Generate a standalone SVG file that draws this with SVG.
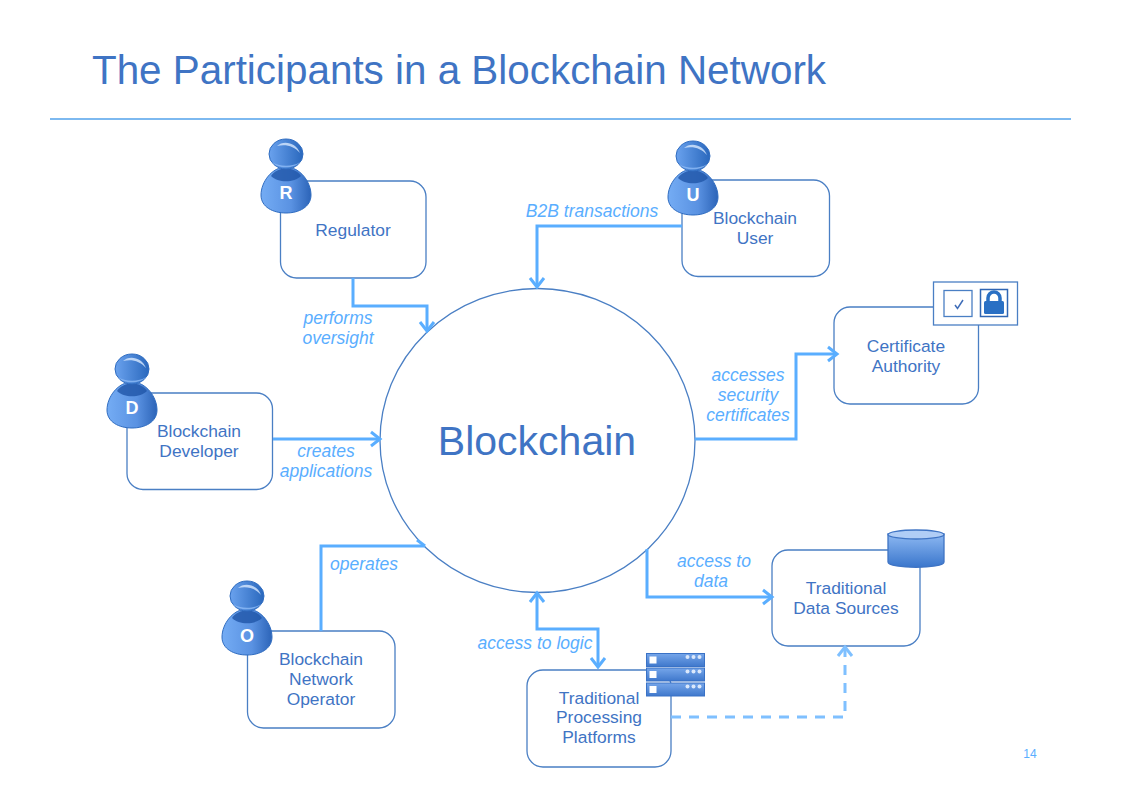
<svg xmlns="http://www.w3.org/2000/svg" width="1122" height="793" viewBox="0 0 1122 793">
<style>
text{font-family:"Liberation Sans",Arial,sans-serif;text-anchor:middle}
.n{fill:#fff;stroke:#4a7fc4;stroke-width:1.300}
.t{font-size:17.400px;fill:#3f74c4}
.l{font-size:17.500px;fill:#5aaeff;font-style:italic}
.c{fill:none;stroke:#5aaeff;stroke-width:3}
.b{font-size:18px;font-weight:bold;fill:#fff}
</style>
<defs>
<linearGradient id="head" x1="0" x2="1" y1="0" y2="0"><stop offset="0" stop-color="#6aa2ee"/><stop offset="1" stop-color="#2a68bd"/></linearGradient>
<linearGradient id="body" x1="0" x2="1" y1="0" y2="0"><stop offset="0" stop-color="#74acf4"/><stop offset="0.6" stop-color="#5a92e2"/><stop offset="1" stop-color="#2c64b8"/></linearGradient>
<linearGradient id="cyl" x1="0" x2="0" y1="0" y2="1"><stop offset="0" stop-color="#8db8f2"/><stop offset="1" stop-color="#3a76cc"/></linearGradient>
<linearGradient id="srv" x1="0" x2="0" y1="0" y2="1"><stop offset="0" stop-color="#76a6ea"/><stop offset="1" stop-color="#3f78cc"/></linearGradient>
<g id="person">
<path d="M0-23C14-23 25-8 25 5C25 17 13 23 0 23C-13 23-25 17-25 5C-25-8-14-23 0-23Z" fill="url(#body)" stroke="#2f6cc0"/>
<path d="M-15-14C-9-24 9-24 15-14C8-7-8-7-15-14Z" fill="#1f55a8" opacity=".8"/>
<ellipse cx="0" cy="-36" rx="17" ry="15" fill="url(#head)" stroke="#2f6cc0"/>
<path d="M-9-44C-3-50 10-48 14-37C8-44 0-46-9-44Z" fill="#d0e3fc" opacity=".85"/>
<path d="M-14-28C-7-23 7-23 14-28C9-21-9-21-14-28Z" fill="#8fbcf6" opacity=".8"/>
</g>
<g id="server">
<rect width="58" height="13" fill="url(#srv)" stroke="#3a72c6"/>
<rect x="3" y="3" width="7" height="7" fill="#fff"/>
<circle cx="41" cy="3.500" r="2" fill="#dbe8fb"/><circle cx="47" cy="3.500" r="2" fill="#dbe8fb"/><circle cx="53" cy="3.500" r="2" fill="#dbe8fb"/>
</g>
</defs>
<rect width="1122" height="793" fill="#fff"/>
<text x="459" y="84" style="font-size:40.400px;fill:#3f74c4">The Participants in a Blockchain Network</text>
<line x1="50" y1="119" x2="1071" y2="119" stroke="#7db9f0" stroke-width="2"/>
<text x="1030" y="758" style="font-size:12px;fill:#5aaeff">14</text>

<g id="blockchain"><ellipse class="n" cx="537.500" cy="440.500" rx="157.500" ry="152"/><text x="537" y="455" style="font-size:41px;fill:#3f74c4">Blockchain</text></g>

<g id="regulator"><rect class="n" x="280.500" y="181" width="145.500" height="97" rx="16"/><text class="t" x="353" y="236">Regulator</text><use href="#person" x="286" y="190"/><text class="b" x="286" y="199">R</text></g>
<g id="user"><rect class="n" x="682" y="180" width="147.500" height="96.500" rx="16"/><text class="t" x="755" y="224">Blockchain</text><text class="t" x="755" y="244">User</text><use href="#person" x="693" y="192"/><text class="b" x="693" y="201">U</text></g>
<g id="developer"><rect class="n" x="127" y="393" width="145.500" height="96.500" rx="16"/><text class="t" x="199" y="437">Blockchain</text><text class="t" x="199" y="457">Developer</text><use href="#person" x="132" y="405"/><text class="b" x="132" y="414">D</text></g>
<g id="operator"><rect class="n" x="247.500" y="631" width="147.500" height="97" rx="16"/><text class="t" x="321" y="665">Blockchain</text><text class="t" x="321" y="685">Network</text><text class="t" x="321" y="705">Operator</text><use href="#person" x="247" y="632"/><text class="b" x="247" y="642">O</text></g>
<g id="ca"><rect class="n" x="834" y="307" width="144.500" height="97" rx="16"/><text class="t" x="906" y="352">Certificate</text><text class="t" x="906" y="372">Authority</text>
<rect x="933.500" y="282" width="84" height="43" fill="#fff" stroke="#4a7fc4" stroke-width="1.300"/>
<rect x="944" y="290.500" width="28" height="26" fill="#fff" stroke="#4a7fc4" stroke-width="1.300"/>
<path d="M955 305L957.500 308.500L963 300" fill="none" stroke="#3f6db8" stroke-width="1.500"/>
<rect x="980.500" y="289.500" width="27" height="27" fill="#fff" stroke="#2f66b4" stroke-width="1.500"/>
<path d="M988 302V298A6 6 0 0 1 1000 298V302" fill="none" stroke="#2a70c4" stroke-width="3.500"/>
<rect x="984" y="301" width="20" height="13" rx="1.500" fill="#2a70c4"/></g>
<g id="datasources"><rect class="n" x="772" y="550" width="148" height="96" rx="16"/><text class="t" x="846" y="594">Traditional</text><text class="t" x="846" y="614">Data Sources</text>
<path d="M888 534V562C888 569 944 569 944 562V534Z" fill="url(#cyl)" stroke="#3f74c4" stroke-width="1.300"/><ellipse cx="916" cy="534.500" rx="28" ry="4.500" fill="#b0cdf6" stroke="#3f74c4" stroke-width="1.300"/></g>
<g id="platforms"><rect class="n" x="527" y="670" width="144" height="97" rx="16"/><text class="t" x="599" y="704">Traditional</text><text class="t" x="599" y="723">Processing</text><text class="t" x="599" y="743">Platforms</text>
<use href="#server" x="646.500" y="653.500"/><use href="#server" x="646.500" y="668"/><use href="#server" x="646.500" y="683"/></g>

<g id="connectors">
<path class="c" d="M353 278V306H427V330"/><path class="c" d="M420 322L427 331L434 322"/>
<path class="c" d="M682 226H537V286"/><path class="c" d="M530 278L537 287L544 278"/>
<path class="c" d="M273 439H379"/><path class="c" d="M371 432L380 439L371 446"/>
<path class="c" d="M695 439H796V354H836"/><path class="c" d="M828 347L837 354L828 361"/>
<path class="c" d="M321 631V546H425"/><path class="c" d="M417 540L425 546"/>
<path class="c" d="M647 549V597H771"/><path class="c" d="M763 590L772 597L763 604"/>
<path class="c" d="M537 594V629H598V666"/><path class="c" d="M530 602L537 593L544 602"/><path class="c" d="M591 658L598 667L605 658"/>
<path d="M671 717H845V648" fill="none" stroke="#7fc0ff" stroke-width="3" stroke-dasharray="10 8"/><path d="M838 656L845 647L852 656" fill="none" stroke="#7fc0ff" stroke-width="3"/>
</g>

<g id="labels">
<text class="l" x="338" y="324">performs</text><text class="l" x="338" y="344">oversight</text>
<text class="l" x="592" y="217">B2B transactions</text>
<text class="l" x="326" y="457">creates</text><text class="l" x="326" y="477">applications</text>
<text class="l" x="748" y="381">accesses</text><text class="l" x="748" y="401">security</text><text class="l" x="748" y="421">certificates</text>
<text class="l" x="364" y="570">operates</text>
<text class="l" x="714" y="567">access to</text><text class="l" x="711" y="587">data</text>
<text class="l" x="535" y="649">access to logic</text>
</g>
</svg>
